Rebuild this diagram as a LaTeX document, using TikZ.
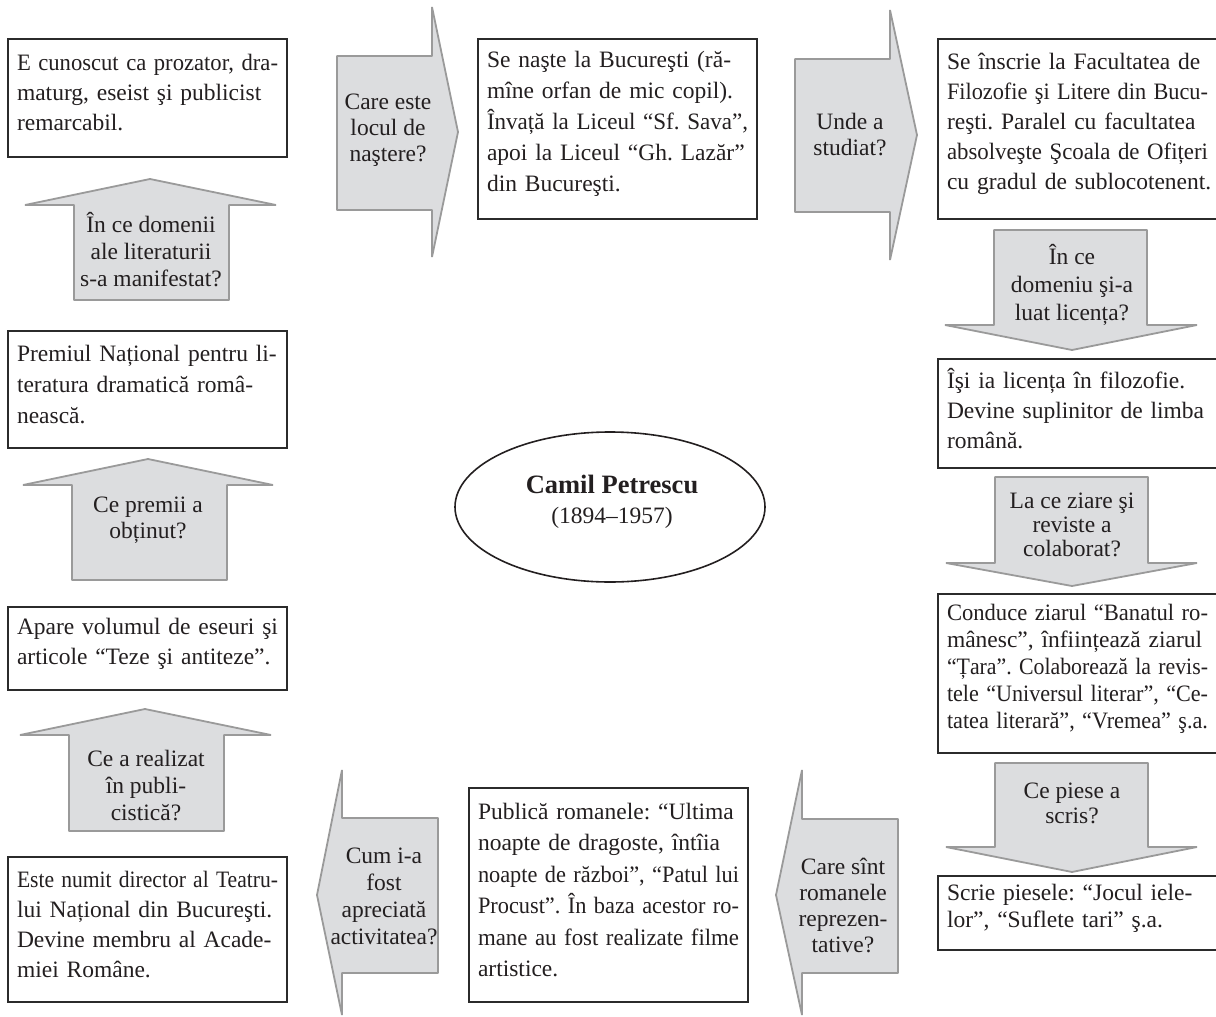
\documentclass[tikz,border=0pt]{standalone}
\usepackage{fontspec}
\setmainfont{Liberation Serif}
\usepackage{graphicx}
\usetikzlibrary{shapes.geometric}
\definecolor{txt}{HTML}{231F20}
\definecolor{boxline}{HTML}{2B2B2B}
\definecolor{arrfill}{HTML}{DCDDDF}
\definecolor{arrline}{HTML}{9A9A9A}
\frenchspacing
\newsavebox\jlbox
\newcommand\JL[1]{\noindent\sbox\jlbox{#1}\ifdim\wd\jlbox>\linewidth\resizebox{\linewidth}{\height}{\usebox\jlbox}\else\hbox to\linewidth{#1}\fi\par}
\newcommand\NL[1]{\noindent\hbox{#1}\par}
\newcommand\BS[1]{\frenchspacing\baselineskip=#1pt\relax}
\newcommand\EB{\par\kern10pt\relax}
\tikzset{
  infobox/.style={draw=boxline, line width=1.3, fill=white, text=txt,
    text width=261pt, inner xsep=9pt, inner ysep=0pt, minimum width=279pt,
    font=\fontsize{23.5}{30}\selectfont},
  arrowshape/.style={fill=arrfill, draw=arrline, line width=1.8, line join=bevel},
  qtext/.style={align=center, inner sep=0pt, text=txt},
}
\begin{document}
\begin{tikzpicture}[x=1pt,y=-1pt]
\useasboundingbox (0,0) rectangle (1216,1017);

% ---------- arrows ----------
\draw[arrowshape] (337,56) -- (432,56) -- (432,7) -- (458,132) -- (432,257) -- (432,210) -- (337,210) -- cycle;
\draw[arrowshape] (795,59) -- (890,59) -- (890,10) -- (917,135) -- (890,260) -- (890,212) -- (795,212) -- cycle;
\draw[arrowshape] (994,230) -- (1147,230) -- (1147,325) -- (1197,325) -- (1072,350) -- (945,325) -- (994,325) -- cycle;
\draw[arrowshape] (995,477) -- (1148,477) -- (1148,563) -- (1197,563) -- (1072,586) -- (946,563) -- (995,563) -- cycle;
\draw[arrowshape] (995,763) -- (1148,763) -- (1148,847) -- (1197,847) -- (1072,872) -- (946,847) -- (995,847) -- cycle;
\draw[arrowshape] (898,819) -- (802,819) -- (802,770) -- (776,895) -- (802,1015) -- (802,973) -- (898,973) -- cycle;
\draw[arrowshape] (438,818) -- (342,818) -- (342,770) -- (317,895) -- (342,1015) -- (342,973) -- (438,973) -- cycle;
\draw[arrowshape] (74,300) -- (74,205) -- (25,205) -- (150,179) -- (276,205) -- (229,205) -- (229,300) -- cycle;
\draw[arrowshape] (72,580) -- (72,485) -- (23,485) -- (148,459) -- (273,485) -- (227,485) -- (227,580) -- cycle;
\draw[arrowshape] (69,831) -- (69,735) -- (20,735) -- (145,709) -- (271,735) -- (224,735) -- (224,831) -- cycle;

% ---------- arrow questions ----------
\node[qtext, font=\fontsize{23.5}{26}\selectfont] (q1) at (388,130) {Care este\\locul de\\naştere?};
\node[qtext, font=\fontsize{23.5}{26}\selectfont] (q2) at (850,135) {Unde a\\studiat?};
\node[qtext, font=\fontsize{23.5}{28}\selectfont] (q3) at (1072,285) {În ce\\domeniu şi-a\\luat licența?};
\node[qtext, font=\fontsize{23.5}{24}\selectfont] (q4) at (1072,525) {La ce ziare şi\\reviste a\\colaborat?};
\node[qtext, font=\fontsize{23.5}{25}\selectfont] (q5) at (1072,803) {Ce piese a\\scris?};
\node[qtext, font=\fontsize{23.5}{26}\selectfont] (q6) at (843,905) {Care sînt\\romanele\\reprezen-\\tative?};
\node[qtext, font=\fontsize{23.5}{27}\selectfont] (q7) at (384,896) {Cum i-a\\fost\\apreciată\\activitatea?};
\node[qtext, font=\fontsize{23.5}{27}\selectfont] (q8) at (146,786) {Ce a realizat\\în publi-\\cistică?};
\node[qtext, font=\fontsize{23.5}{26}\selectfont] (q9) at (148,520) {Ce premii a\\obținut?};
\node[qtext, font=\fontsize{23.5}{27}\selectfont] (q10) at (151,250) {În ce domenii\\ale literaturii\\s-a manifestat?};

% ---------- boxes ----------
\node[infobox, minimum height=118pt] (b1) at (147.5,98) {\BS{30}%
  \JL{E cunoscut ca prozator, dra-}\JL{maturg, eseist şi publicist}\NL{remarcabil.}\EB};
\node[infobox, minimum height=180pt] (b2) at (617.5,129) {\BS{31}%
  \JL{Se naşte la Bucureşti (ră-}\JL{mîne orfan de mic copil).}\JL{Învață la Liceul “Sf. Sava”,}\JL{apoi la Liceul “Gh. Lazăr”}\NL{din Bucureşti.}\EB};
\node[infobox, minimum height=180pt] (b3) at (1077.5,129) {\BS{30}%
  \JL{Se înscrie la Facultatea de}\JL{Filozofie şi Litere din Bucu-}\JL{reşti. Paralel cu facultatea}\JL{absolveşte Şcoala de Ofițeri}\NL{cu gradul de sublocotenent.}\EB};
\node[infobox, minimum height=109pt] (b4) at (1077.5,413.5) {\BS{30}%
  \JL{Îşi ia licența în filozofie.}\JL{Devine suplinitor de limba}\NL{română.}\EB};
\node[infobox, minimum height=159pt] (b5) at (1077.5,673.5) {\BS{27}%
  \JL{Conduce ziarul “Banatul ro-}\JL{mânesc”, înființează ziarul}\JL{“Țara”. Colaborează la revis-}\JL{tele “Universul literar”, “Ce-}\JL{tatea literară”, “Vremea” ş.a.}\EB};
\node[infobox, minimum height=74pt] (b6) at (1077.5,913) {\BS{27}%
  \JL{Scrie piesele: “Jocul iele-}\NL{lor”, “Suflete tari” ş.a.}\EB};
\node[infobox, minimum height=214pt] (b7) at (608.5,895) {\BS{31.5}%
  \JL{Publică romanele: “Ultima}\JL{noapte de dragoste, întîia}\JL{noapte de război”, “Patul lui}\JL{Procust”. În baza acestor ro-}\JL{mane au fost realizate filme}\NL{artistice.}\EB};
\node[infobox, minimum height=145pt] (b8) at (147.5,929.5) {\BS{30}%
  \JL{Este numit director al Teatru-}\JL{lui Național din Bucureşti.}\JL{Devine membru al Acade-}\NL{miei Române.}\EB};
\node[infobox, minimum height=83pt] (b9) at (147.5,648.5) {\BS{30}%
  \JL{Apare volumul de eseuri şi}\NL{articole “Teze şi antiteze”.}\EB};
\node[infobox, minimum height=117pt] (b10) at (147.5,389.5) {\BS{31}%
  \JL{Premiul Național pentru li-}\JL{teratura dramatică româ-}\NL{nească.}\EB};

% ---------- centre ----------
\node[ellipse, draw=txt, line width=1.6, minimum width=310pt, minimum height=150pt, inner sep=0pt] (c) at (610,507) {};
\node[qtext, font=\fontsize{23.5}{30}\selectfont] (ctext) at (612,502) {{\fontsize{26.5}{30}\selectfont\bfseries Camil Petrescu}\\(1894–1957)};
\end{tikzpicture}
\end{document}
